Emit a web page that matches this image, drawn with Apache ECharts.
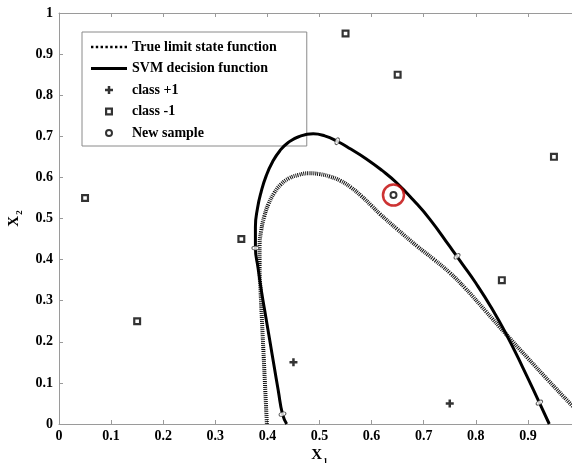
<!DOCTYPE html>
<html>
<head>
<meta charset="utf-8">
<script src="https://cdn.jsdelivr.net/npm/echarts@6/dist/echarts.min.js"></script>
<style>
html,body{margin:0;padding:0;background:#fff;}
#chart{width:572px;height:463px;}
</style>
</head>
<body>
<div id="chart"></div>
<script>
// ---- data ----
var xTicks = [0, 0.1, 0.2, 0.3, 0.4, 0.5, 0.6, 0.7, 0.8, 0.9, 1];
var trueLimitPts = [
  [0.399,0],[0.396,0.08],[0.393,0.16],[0.390,0.24],[0.387,0.32],[0.385,0.38],
  [0.385,0.43],[0.388,0.47],[0.394,0.505],[0.402,0.535],[0.413,0.562],[0.426,0.583],
  [0.442,0.598],[0.460,0.606],[0.479,0.610],[0.500,0.608],[0.520,0.602],[0.540,0.592],
  [0.560,0.576],[0.580,0.555],[0.600,0.531],[0.616,0.511],[0.650,0.473],[0.687,0.433],
  [0.720,0.400],[0.750,0.368],[0.780,0.330],[0.820,0.273],[0.857,0.220],[0.900,0.160],
  [0.940,0.105],[0.981,0.050],[1.02,0]
];
var svmPts = [
  [0.437,0],[0.429,0.024],[0.421,0.08],[0.413,0.14],[0.405,0.20],[0.397,0.26],
  [0.389,0.32],[0.382,0.38],[0.377,0.43],[0.377,0.48],[0.381,0.525],[0.388,0.565],
  [0.398,0.605],[0.410,0.638],[0.424,0.665],[0.440,0.685],[0.460,0.699],[0.488,0.706],
  [0.510,0.701],[0.534,0.688],[0.560,0.669],[0.590,0.645],[0.620,0.617],[0.648,0.587],
  [0.680,0.545],[0.712,0.498],[0.750,0.432],[0.775,0.388],[0.800,0.343],[0.830,0.283],
  [0.857,0.222],[0.890,0.138],[0.922,0.052],[0.941,0]
];
var classPlus = [[0.45,0.15],[0.75,0.05]];
var classMinus = [[0.05,0.55],[0.15,0.25],[0.35,0.45],[0.55,0.95],[0.65,0.85],[0.85,0.35],[0.95,0.65]];
var newSample = [[0.642,0.557]];
// contour label remnants on the SVM curve: [x, y, rotation]
var svmLabelMarks = [[0.534,0.688,70],[0.377,0.428,0],[0.429,0.024,15],[0.764,0.408,40],[0.922,0.052,30]];

var serif = "'Liberation Serif','Times New Roman',serif";
var axisGray = '#9a9a9a';
var plusPath = 'path://M2.75,0H5.25V2.75H8V5.25H5.25V8H2.75V5.25H0V2.75H2.75Z';
var dotsPath = 'path://' + (function () {
  var s = '';
  for (var i = 0; i < 8; i++) { var x = i * 3; s += 'M' + x + ',0H' + (x + 1.5) + 'V1.5H' + x + 'Z'; }
  return s;
})();
var squarePath = 'path://M0,0H8V8H0Z M2.2,2.2V5.8H5.8V2.2Z';
var ringPath = 'path://M4,0A4,4 0 1 1 3.99,0Z M4,2A2,2 0 1 0 4.01,2Z';

var chart = echarts.init(document.getElementById('chart'));
chart.setOption({
  animation: false,
  backgroundColor: '#fff',
  grid: {left: 59, right: -8, top: 13, bottom: 39, outerBoundsMode: 'none', containLabel: false},
  xAxis: [{
    type: 'value', min: 0, max: 1, interval: 0.1, position: 'bottom',
    name: '{x|X}{s|1}', nameLocation: 'middle', nameGap: 16,
    nameTextStyle: {rich: {
      x: {fontFamily: serif, fontWeight: 'bold', fontSize: 15, color: '#000'},
      s: {fontFamily: serif, fontWeight: 'bold', fontSize: 9, color: '#000', padding: [12,0,0,1]}
    }},
    axisLine: {show: true, lineStyle: {color: axisGray, width: 1}},
    axisTick: {show: true, inside: true, length: 4, lineStyle: {color: axisGray}},
    axisLabel: {color: '#000', fontFamily: serif, fontWeight: 'bold', fontSize: 14, margin: 5,
      formatter: function (v) { return String(+v.toFixed(2)); }},
    splitLine: {show: false}
  }, {
    type: 'value', min: 0, max: 1, interval: 0.1, position: 'top',
    axisLine: {show: true, onZero: false, lineStyle: {color: axisGray, width: 1}},
    axisTick: {show: true, inside: true, length: 4, lineStyle: {color: axisGray}},
    axisLabel: {show: false}, splitLine: {show: false}
  }],
  yAxis: [{
    type: 'value', min: 0, max: 1, interval: 0.1,
    name: '{x|X}{s|2}', nameLocation: 'middle', nameGap: 25, nameRotate: 90,
    nameTextStyle: {rich: {
      x: {fontFamily: serif, fontWeight: 'bold', fontSize: 15, color: '#000'},
      s: {fontFamily: serif, fontWeight: 'bold', fontSize: 9, color: '#000', padding: [12,0,0,1]}
    }},
    axisLine: {show: true, lineStyle: {color: axisGray, width: 1}},
    axisTick: {show: true, inside: true, length: 4, lineStyle: {color: axisGray}},
    axisLabel: {color: '#000', fontFamily: serif, fontWeight: 'bold', fontSize: 14, margin: 6,
      formatter: function (v) { return String(+v.toFixed(2)); }},
    splitLine: {show: false}
  }],
  legend: {
    show: true, orient: 'vertical', left: 82, top: 32,
    padding: [7, 30, 5, 9],
    itemWidth: 36, itemHeight: 8, itemGap: 5.5,
    backgroundColor: '#fff', borderColor: '#8a8a8a', borderWidth: 1,
    textStyle: {fontFamily: serif, fontWeight: 'bold', fontSize: 14, color: '#000', lineHeight: 16},
    data: [
      {name: 'True limit state function', icon: dotsPath,
        itemStyle: {color: '#000', borderWidth: 0}},
      {name: 'SVM decision function', icon: 'path://M0,0H36V3H0Z',
        itemStyle: {color: '#000', borderWidth: 0}},
      {name: 'class +1', icon: plusPath, itemStyle: {color: '#000', borderWidth: 0}},
      {name: 'class -1', icon: squarePath, itemStyle: {color: '#000', borderWidth: 0}},
      {name: 'New sample', icon: ringPath, itemStyle: {color: '#000', borderWidth: 0}}
    ]
  },
  series: [
    {
      name: 'True limit state function', type: 'line', data: trueLimitPts,
      smooth: 0.5, symbol: 'none', clip: true, z: 3,
      lineStyle: {color: '#111', width: 4, type: [1, 1]}
    },
    {
      name: 'SVM decision function', type: 'line', data: svmPts,
      smooth: 0.5, symbol: 'none', clip: true, z: 4,
      lineStyle: {color: '#000', width: 3}
    },
    {
      name: 'svm labels', type: 'scatter', z: 5, silent: true,
      data: svmLabelMarks.map(function (d) { return {value: [d[0], d[1]], symbolRotate: d[2]}; }),
      symbol: 'circle', symbolSize: [7, 4],
      itemStyle: {color: '#fff', borderColor: '#333', borderWidth: 0.8}
    },
    {
      name: 'class +1', type: 'scatter', data: classPlus, z: 6,
      symbol: plusPath, symbolSize: 8,
      itemStyle: {color: '#000'}
    },
    {
      name: 'class -1', type: 'scatter', data: classMinus, z: 6,
      symbol: squarePath, symbolSize: 8,
      itemStyle: {color: '#000'}
    },
    {
      name: 'New sample', type: 'scatter', data: newSample, z: 6,
      symbol: ringPath, symbolSize: 8,
      itemStyle: {color: '#000'}
    },
    {
      name: 'highlight', type: 'scatter', data: newSample, z: 7, silent: true,
      symbol: 'circle', symbolSize: 21,
      itemStyle: {color: 'rgba(0,0,0,0)', borderColor: '#c00000', borderWidth: 2.5}
    }
  ]
});
</script>
</body>
</html>
